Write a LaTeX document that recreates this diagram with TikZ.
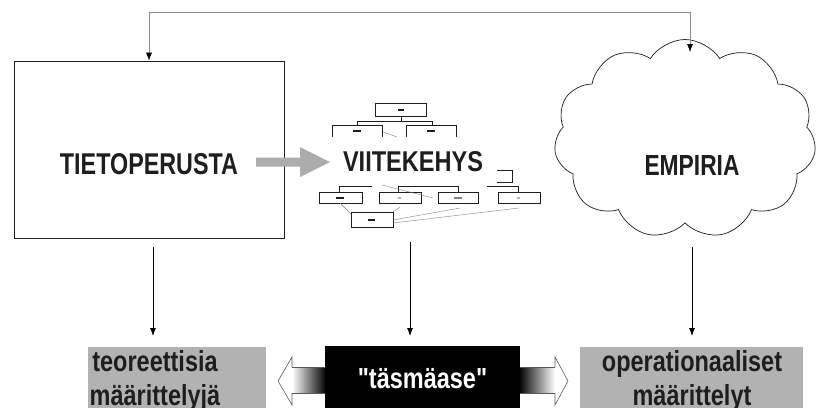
\documentclass[tikz,border=0pt]{standalone}
\usepackage{fontspec}
\usepackage{graphicx}
\usetikzlibrary{shapes.symbols,arrows.meta}
\newfontfamily\lf[FakeStretch=0.81]{Liberation Sans Bold}
\newfontfamily\cf{Liberation Sans Bold}
\definecolor{boxgray}{RGB}{178,178,178}
\definecolor{arrgray}{RGB}{172,172,172}
\definecolor{ink}{RGB}{30,30,30}
\begin{document}
\begin{tikzpicture}[x=1pt,y=-1pt,
  frame/.style={draw=ink, line width=0.8pt, inner sep=0pt},
  caps/.style={inner sep=0pt, text=ink},
  vert/.style={draw=black, line width=0.8pt, -{Latex[length=8pt,width=6pt]}},
  fb/.style={draw=gray!90, line width=0.6pt, {Latex[length=8pt,width=6pt,color=black]}-{Latex[length=8pt,width=6pt,color=black]}},
  graybox/.style={fill=boxgray, draw=none, inner sep=0pt},
  lbl/.style={font=\lf\fontsize{29}{34}\selectfont, align=center, text=ink, inner sep=0pt},
  tree/.style={draw=ink, line width=0.6pt},
  treefine/.style={draw=gray, line width=0.4pt},
  hollow/.style={draw=gray!70!black, line width=0.6pt}
]
\useasboundingbox (0,0) rectangle (818,407);
\fill[white] (0,0) rectangle (818,407);
\clip (0,0) rectangle (818,407);

% ---- main blocks ----
\node[frame, minimum width=270pt, minimum height=177pt] (tp) at (149,149.5) {};
\node[caps] (tptext) at (149,164) {\resizebox{178pt}{21pt}{\cf TIETOPERUSTA}};

\node[cloud, cloud puffs=11, cloud puff arc=115, draw=ink, line width=0.7pt,
      minimum width=262pt, minimum height=199pt, inner sep=0pt] (emp) at (685,139) {};
\node[caps] (emptext) at (692,165) {\resizebox{95pt}{20pt}{\cf EMPIRIA}};

\node[caps] (vk) at (413,162) {\resizebox{140pt}{20pt}{\cf VIITEKEHYS}};

% gray arrow
\fill[arrgray] (256,157.5) -- (300,157.5) -- (300,147) -- (330,162) -- (300,177) -- (300,166.5) -- (256,166.5) -- cycle;

% ---- small chart around VIITEKEHYS ----
\draw[tree] (375,103) rectangle (426,116);
\fill[ink] (398,108.5) rectangle (404,110.5);
\draw[tree] (401,116) -- (401,121);
\draw[tree] (357,125) -- (357,121) -- (432,121) -- (432,125);
\draw[tree] (332,137) -- (332,125) -- (382,125) -- (382,137);
\draw[tree] (406,137) -- (406,125) -- (456,125) -- (456,137);
\fill[ink] (353,130) rectangle (361,132);
\fill[ink] (427,130) rectangle (435,132);
\draw[treefine] (383,132) -- (397,137);

\draw[tree] (319,192) rectangle (362,203);
\draw[tree] (379,192) rectangle (421,203);
\draw[tree] (438,192) rectangle (478,203);
\draw[tree] (498,192) rectangle (540,203);
\draw[tree] (351,212) rectangle (393,227);
\fill[ink] (336,196.5) rectangle (344,198.5);
\fill[gray!60] (398,197) rectangle (401,198.5);
\fill[gray] (454,197) rectangle (462,198.5);
\fill[gray!60] (517,197) rectangle (520,198.5);
\fill[ink] (368,219) rectangle (375,221);
\draw[tree] (339,192) -- (339,186) -- (372,186);
\draw[tree] (398,192) -- (398,186) -- (458,186) -- (458,192);
\draw[tree] (487,186) -- (518,186) -- (518,192);
\draw[tree] (497,170) -- (512,170) -- (512,182) -- (497,182);
\draw[treefine] (382,185) -- (433,198);
\draw[treefine] (340,203) -- (351,214);
\draw[treefine] (393,212) -- (400,207);
\draw[treefine] (393,220) -- (460,208);
\draw[treefine] (393,223) -- (519,208);

% ---- feedback line ----
\coordinate (fbr) at (690,12);
\coordinate (cloudtop) at (690,52);
\draw[fb] (tp.north) |- (fbr) -- (cloudtop);

% ---- vertical arrows ----
\coordinate (a1s) at (153,247); \coordinate (a1e) at (153,336);
\coordinate (a2s) at (410,242); \coordinate (a2e) at (410,336);
\coordinate (a3s) at (692,247); \coordinate (a3e) at (692,336);
\draw[vert] (a1s) -- (a1e);
\draw[vert] (a2s) -- (a2e);
\draw[vert] (a3s) -- (a3e);

% ---- bottom row ----
\node[graybox, minimum width=178pt, minimum height=80pt, anchor=north west] (teo) at (88,347) {};
\node[graybox, minimum width=223pt, minimum height=80pt, anchor=north west] (op) at (580,347) {};

% hollow arrows
\path[left color=white, right color=black] (292,367) rectangle (326,393);
\draw[hollow, fill=white] (292,367) -- (292,357) -- (278,381) -- (292,405) -- (292,393);
\draw[hollow] (292,367) -- (326,367) (292,393) -- (326,393);
\path[left color=black, right color=white] (519,367) rectangle (555,393);
\draw[hollow, fill=white] (555,367) -- (555,357) -- (568,381) -- (555,405) -- (555,393);
\draw[hollow] (555,367) -- (519,367) (555,393) -- (519,393);

\node[fill=black, minimum width=195pt, minimum height=80pt, anchor=north west, inner sep=0pt] (tas) at (325,346) {};

\node[lbl, anchor=base] (teotext) at (155,405) {teoreettisia\\määrittelyjä};
\node[lbl, anchor=base] (optext) at (692,405) {operationaaliset\\määrittelyt};
\node[font=\lf\fontsize{29}{34}\selectfont, text=white, inner sep=0pt, anchor=base] (tastext) at (422.5,388) {"täsmäase"};
\end{tikzpicture}
\end{document}
